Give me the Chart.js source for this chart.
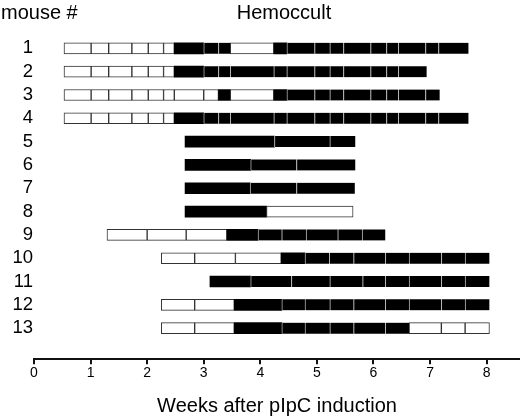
<!DOCTYPE html>
<html>
<head>
<meta charset="utf-8">
<script src="https://cdn.jsdelivr.net/npm/chart.js@4"></script>
<style>
  html, body { margin: 0; padding: 0; background: #fff; }
  #wrap { width: 520px; height: 419px; }
</style>
</head>
<body>
<div id="wrap"><canvas id="hemoChart" width="520" height="419"></canvas></div>
<script>
// mouse ids, one row each
const mouseIds = [1, 2, 3, 4, 5, 6, 7, 8, 9, 10, 11, 12, 13];

// segment boundaries per mouse (weeks after pIpC)
const segmentEdges = [
  [0.53, 1.01, 1.32, 1.73, 2.02, 2.29, 2.48, 3.00, 3.26, 3.47, 4.24, 4.47, 4.96, 5.23, 5.47, 5.95, 6.23, 6.44, 6.92, 7.15, 7.68],
  [0.53, 1.01, 1.32, 1.73, 2.02, 2.29, 2.48, 3.00, 3.26, 3.47, 4.24, 4.47, 4.96, 5.23, 5.47, 5.95, 6.23, 6.44, 6.94],
  [0.53, 1.01, 1.32, 1.73, 2.02, 2.29, 2.48, 3.00, 3.26, 3.47, 4.24, 4.47, 4.96, 5.23, 5.47, 5.95, 6.23, 6.44, 6.92, 7.17],
  [0.53, 1.01, 1.32, 1.73, 2.02, 2.29, 2.48, 3.00, 3.26, 3.47, 4.24, 4.47, 4.96, 5.23, 5.47, 5.95, 6.23, 6.44, 6.92, 7.15, 7.68],
  [2.67, 4.25, 5.23, 5.68],
  [2.67, 3.83, 4.64, 5.68],
  [2.67, 3.82, 4.64, 5.67],
  [2.67, 4.11, 5.64],
  [1.29, 2.00, 2.69, 3.41, 3.96, 4.38, 4.81, 5.37, 5.80, 6.21],
  [2.25, 2.84, 3.56, 4.37, 4.79, 5.22, 5.65, 6.21, 6.63, 7.20, 7.62, 8.05],
  [3.11, 3.83, 4.55, 5.23, 5.81, 6.21, 6.63, 7.20, 7.62, 8.05],
  [2.25, 2.84, 3.54, 4.38, 4.79, 5.23, 5.65, 6.21, 6.63, 7.20, 7.62, 8.05],
  [2.25, 2.84, 3.54, 4.38, 4.79, 5.23, 5.65, 6.21, 6.63, 7.20, 7.62, 8.05]
];

// hemoccult result per segment: w = negative, b = positive
const segmentFills = [
  'wwwwwwbbbwbbbbbbbbbb',
  'wwwwwwbbbbbbbbbbbb',
  'wwwwwwwwbwbbbbbbbbb',
  'wwwwwwbbbbbbbbbbbbbb',
  'bbb',
  'bbb',
  'bbb',
  'bw',
  'wwwbbbbbb',
  'wwwbbbbbbbb',
  'bbbbbbbbb',
  'wwbbbbbbbbb',
  'wwbbbbbbwww'
];

const weekTicks = [0, 1, 2, 3, 4, 5, 6, 7, 8];

const FONT = 'Arial, "Liberation Sans", sans-serif';

const segments = [];
mouseIds.forEach((id, r) => {
  const edges = segmentEdges[r];
  const fills = segmentFills[r];
  for (let k = 0; k < edges.length - 1; k++) {
    segments.push({
      x: [edges[k], edges[k + 1]],
      y: id,
      fill: fills[k],
      prevBlack: k > 0 && fills[k - 1] === 'b'
    });
  }
});

const headerText = {
  id: 'headerText',
  afterDraw(chart) {
    const c = chart.ctx;
    c.save();
    c.fillStyle = '#000';
    c.font = '20px ' + FONT;
    c.textBaseline = 'middle';
    c.textAlign = 'left';
    c.fillText('mouse #', 1, 13);
    c.textAlign = 'center';
    c.fillText('Hemoccult', 284, 13);
    c.restore();
  }
};

new Chart(document.getElementById('hemoChart'), {
  type: 'bar',
  data: {
    datasets: [{
      data: segments,
      barThickness: 11,
      borderSkipped: false,
      backgroundColor: ctx => (ctx.raw && ctx.raw.fill === 'b') ? '#000' : '#fff',
      borderColor: ctx => {
        const s = ctx.raw;
        if (!s) return '#333';
        if (s.fill === 'b') return s.prevBlack ? '#b4b4b4' : '#000';
        return '#333';
      },
      borderWidth: ctx => {
        const s = ctx.raw;
        if (s && s.fill === 'b') {
          return { left: s.prevBlack ? 1 : 0, right: 0, top: 0, bottom: 0 };
        }
        return 1;
      }
    }]
  },
  options: {
    indexAxis: 'y',
    responsive: false,
    animation: false,
    layout: { padding: { top: 25, left: 0, right: 0, bottom: 0 } },
    plugins: {
      legend: { display: false },
      tooltip: { enabled: false },
      title: { display: false }
    },
    scales: {
      x: {
        type: 'linear',
        min: 0,
        max: 8.59,
        afterBuildTicks: s => { s.ticks = weekTicks.map(v => ({ value: v })); },
        border: { display: true, color: '#111', width: 2 },
        grid: { drawOnChartArea: false, drawTicks: true, tickLength: 5, color: '#111', lineWidth: 2 },
        ticks: { color: '#000', font: { family: FONT, size: 14 }, padding: 1, maxRotation: 0, autoSkip: false },
        title: {
          display: true,
          text: 'Weeks after pIpC induction',
          color: '#000',
          font: { family: FONT, size: 20 },
          padding: { top: 11, bottom: 1 }
        }
      },
      y: {
        type: 'linear',
        reverse: true,
        offset: false,
        min: 0,
        max: 14.33,
        afterBuildTicks: s => { s.ticks = mouseIds.map(v => ({ value: v })); },
        afterFit: s => { s.width = 34; },
        border: { display: false },
        grid: { display: false, drawTicks: false, offset: false },
        ticks: { color: '#000', font: { family: FONT, size: 18.5 }, padding: 1, autoSkip: false }
      }
    }
  },
  plugins: [headerText]
});
</script>
</body>
</html>
